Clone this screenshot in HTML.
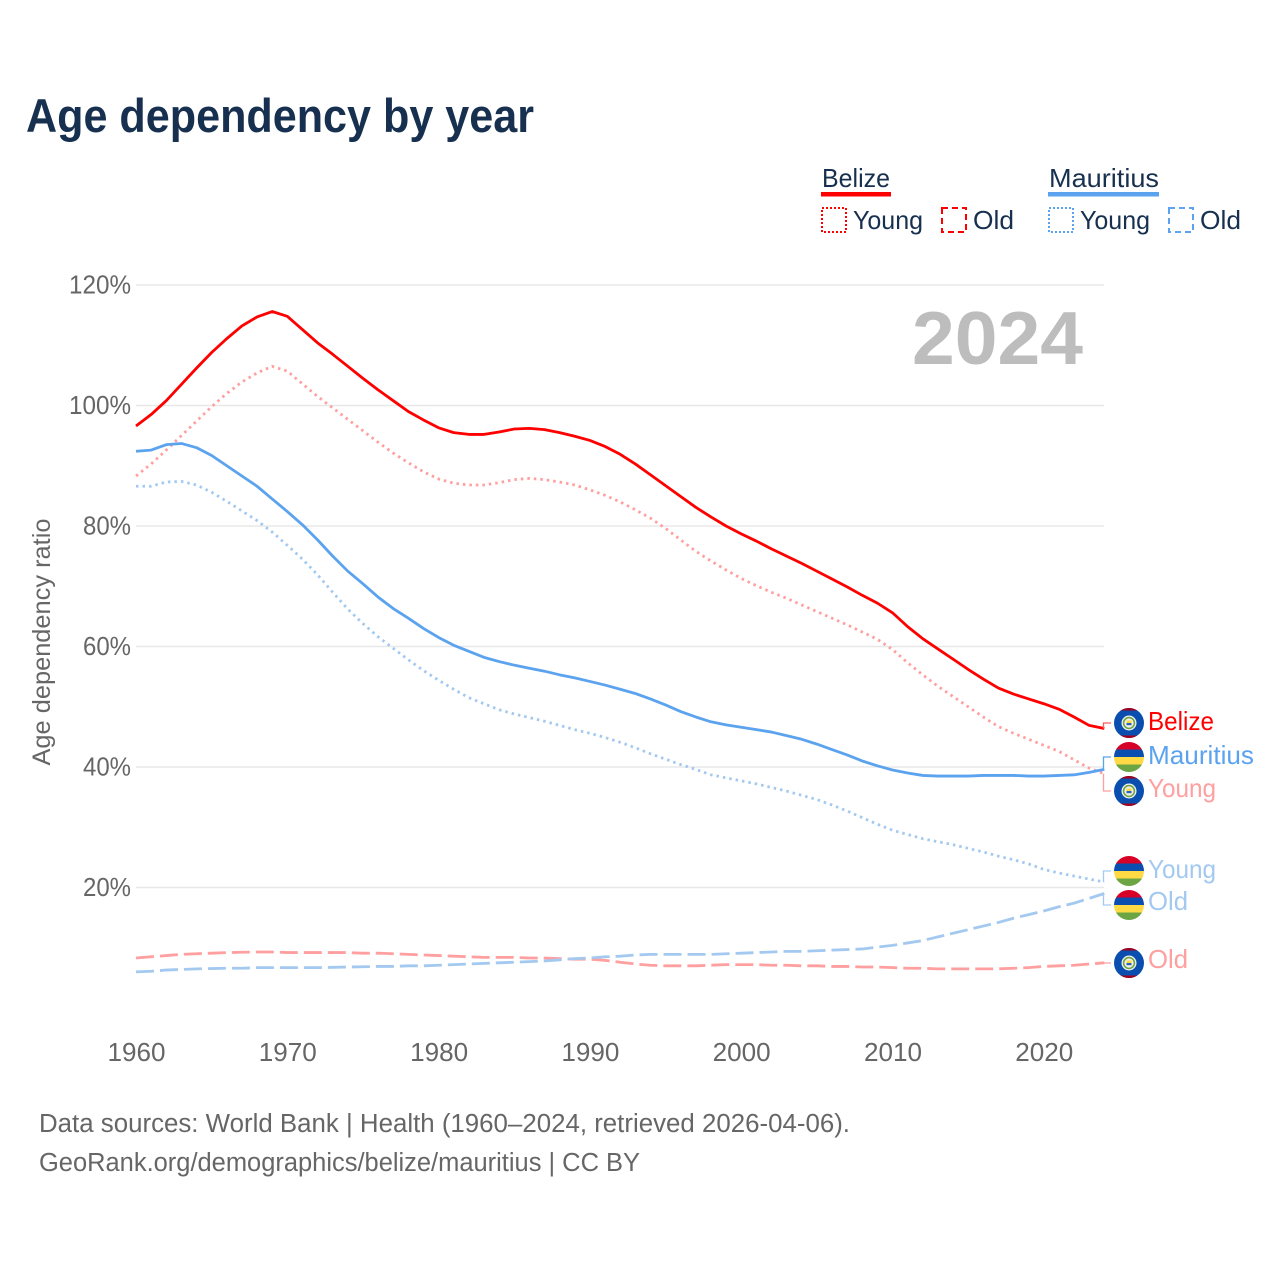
<!DOCTYPE html>
<html lang="en">
<head>
<meta charset="utf-8">
<title>Age dependency by year</title>
<style>
html,body{margin:0;padding:0;background:#fff;}
svg{display:block;font-family:"Liberation Sans",sans-serif;}
</style>
</head>
<body>
<svg id="chart" xmlns="http://www.w3.org/2000/svg" width="1280" height="1280" viewBox="0 0 1280 1280">
<defs>
<clipPath id="flag-clip"><circle cx="0" cy="0" r="15"/></clipPath>
<g id="flag-bz" clip-path="url(#flag-clip)">
<rect x="-15" y="-15" width="30" height="30" fill="#0a4fb0"/>
<rect x="-15" y="-15" width="30" height="2.5" fill="#a2001d"/>
<rect x="-15" y="12.5" width="30" height="2.5" fill="#a2001d"/>
<circle r="7.5" fill="#f0f0f0"/>
<circle r="5.4" fill="none" stroke="#6da544" stroke-width="1.6"/>
<rect x="-2.5" y="-2.5" width="5" height="2.5" fill="#ffda44"/>
<rect x="-2.5" y="0" width="5" height="2.2" fill="#2a62b8"/>
</g>
<g id="flag-mu" clip-path="url(#flag-clip)">
<rect x="-15" y="-15" width="30" height="7.5" fill="#d80027"/>
<rect x="-15" y="-7.5" width="30" height="7.5" fill="#0a4fb0"/>
<rect x="-15" y="0" width="30" height="7.5" fill="#ffda44"/>
<rect x="-15" y="7.5" width="30" height="7.5" fill="#6da544"/>
</g>
</defs>

<text x="26" y="132" font-size="47" font-weight="700" fill="#17304f" textLength="508" lengthAdjust="spacingAndGlyphs">Age dependency by year</text>

<g font-size="26" fill="#17304f">
<text x="822" y="187" textLength="68" lengthAdjust="spacingAndGlyphs">Belize</text>
<rect x="821" y="192" width="70" height="4.5" fill="#ff0000"/>
<rect x="822" y="208" width="24" height="24" fill="none" stroke="#ff0000" stroke-width="2" stroke-dasharray="2 2"/>
<text x="853" y="229" textLength="70" lengthAdjust="spacingAndGlyphs">Young</text>
<rect x="942" y="208" width="24" height="24" fill="none" stroke="#ff0000" stroke-width="2" stroke-dasharray="6 4"/>
<text x="973" y="229" textLength="41" lengthAdjust="spacingAndGlyphs">Old</text>
<text x="1049" y="187" textLength="110" lengthAdjust="spacingAndGlyphs">Mauritius</text>
<rect x="1048" y="192" width="111" height="4.5" fill="#5ba3ee"/>
<rect x="1049" y="208" width="24" height="24" fill="none" stroke="#5ba3ee" stroke-width="2" stroke-dasharray="2 2"/>
<text x="1080" y="229" textLength="70" lengthAdjust="spacingAndGlyphs">Young</text>
<rect x="1169" y="208" width="24" height="24" fill="none" stroke="#5ba3ee" stroke-width="2" stroke-dasharray="6 4"/>
<text x="1200" y="229" textLength="41" lengthAdjust="spacingAndGlyphs">Old</text>
</g>

<g id="grid"></g>
<g id="xaxis"></g>
<text transform="translate(50,642) rotate(-90)" text-anchor="middle" font-size="25" fill="#666666" textLength="247" lengthAdjust="spacingAndGlyphs">Age dependency ratio</text>
<text x="912" y="364" font-size="75" font-weight="700" fill="#bdbdbd" textLength="171" lengthAdjust="spacingAndGlyphs">2024</text>
<g id="series"></g>
<g id="leaders"></g>

<g font-size="26">
<use href="#flag-bz" x="1129" y="723"/>
<text x="1148" y="730" fill="#ff0000" textLength="66" lengthAdjust="spacingAndGlyphs">Belize</text>
<use href="#flag-mu" x="1129" y="757"/>
<text x="1148" y="764" fill="#5ba3ee" textLength="106" lengthAdjust="spacingAndGlyphs">Mauritius</text>
<use href="#flag-bz" x="1129" y="791"/>
<text x="1148" y="797" fill="#ff9f9f" textLength="68" lengthAdjust="spacingAndGlyphs">Young</text>
<use href="#flag-mu" x="1129" y="871"/>
<text x="1148" y="878" fill="#a3c9f0" textLength="68" lengthAdjust="spacingAndGlyphs">Young</text>
<use href="#flag-mu" x="1129" y="905"/>
<text x="1148" y="910" fill="#a3c9f0" textLength="40" lengthAdjust="spacingAndGlyphs">Old</text>
<use href="#flag-bz" x="1129" y="963"/>
<text x="1148" y="968" fill="#ff9f9f" textLength="40" lengthAdjust="spacingAndGlyphs">Old</text>
</g>

<g font-size="25.5" fill="#666666">
<text x="39" y="1132" textLength="811" lengthAdjust="spacingAndGlyphs">Data sources: World Bank | Health (1960–2024, retrieved 2026-04-06).</text>
<text x="39" y="1171" textLength="601" lengthAdjust="spacingAndGlyphs">GeoRank.org/demographics/belize/mauritius | CC BY</text>
</g>
</svg>

<script>
const startYear = 1960;
const xTickLabels = [1960, 1970, 1980, 1990, 2000, 2010, 2020];
const yTickValues = [20, 40, 60, 80, 100, 120];

const belizeTotal = [
96.6,98.5,100.8,103.5,106.2,108.8,111.1,113.2,114.7,115.6,
114.8,112.6,110.4,108.5,106.5,104.5,102.6,100.8,99,97.6,
96.3,95.5,95.2,95.2,95.6,96.1,96.2,96,95.5,94.9,
94.2,93.2,91.9,90.3,88.5,86.7,84.9,83.1,81.5,80,
78.7,77.5,76.2,75,73.8,72.5,71.2,69.9,68.5,67.2,
65.6,63.3,61.3,59.6,57.9,56.2,54.6,53.1,52.1,51.3,
50.5,49.6,48.3,46.9,46.4];
const belizeYoung = [
88.3,90.3,92.6,95,97.4,99.8,102,103.9,105.4,106.5,
105.7,103.6,101.5,99.6,97.7,95.8,93.9,92.1,90.5,89,
87.8,87.1,86.8,86.8,87.2,87.7,87.9,87.7,87.3,86.8,
86,85.1,84,82.7,81.3,79.6,77.7,75.8,74.2,72.7,
71.3,70.1,69,68,66.9,65.8,64.7,63.6,62.4,61.2,
59.5,57.3,55.3,53.4,51.7,50,48.3,46.7,45.6,44.6,
43.6,42.6,41.2,39.8,38.9];
const belizeOld = [
8.3,8.5,8.7,8.9,9,9.1,9.2,9.25,9.3,9.3,
9.2,9.2,9.2,9.2,9.2,9.1,9.1,9,8.9,8.8,
8.7,8.6,8.5,8.4,8.4,8.4,8.3,8.3,8.2,8.1,
8.1,7.9,7.6,7.3,7.1,7,7,7,7.1,7.2,
7.2,7.2,7.1,7.1,7,7,6.9,6.9,6.8,6.8,
6.7,6.6,6.6,6.5,6.5,6.5,6.5,6.5,6.6,6.7,
6.9,7,7.1,7.3,7.5];
const mauritiusTotal = [
92.4,92.6,93.5,93.7,93,91.7,90,88.3,86.6,84.5,
82.4,80.2,77.7,75,72.5,70.4,68.2,66.3,64.7,63,
61.5,60.2,59.2,58.2,57.5,56.9,56.4,55.9,55.3,54.8,
54.2,53.6,52.9,52.2,51.3,50.3,49.2,48.3,47.5,47,
46.6,46.2,45.8,45.2,44.6,43.8,42.9,42,41,40.2,
39.5,39,38.6,38.5,38.5,38.5,38.6,38.6,38.6,38.5,
38.5,38.6,38.7,39.1,39.6];
const mauritiusYoung = [
86.6,86.6,87.3,87.4,86.8,85.6,84.1,82.5,80.9,79,
76.8,74.5,71.9,69,66.2,63.8,61.6,59.7,57.8,56,
54.4,52.9,51.5,50.5,49.5,48.8,48.2,47.6,46.9,46.2,
45.6,44.9,44.1,43.2,42.2,41.3,40.4,39.6,38.7,38.2,
37.7,37.2,36.6,36,35.3,34.6,33.7,32.7,31.6,30.5,
29.5,28.8,28.1,27.6,27.1,26.5,25.9,25.2,24.6,23.9,
23,22.4,21.9,21.4,20.9];
const mauritiusOld = [
6,6.1,6.3,6.4,6.5,6.55,6.6,6.6,6.7,6.7,
6.7,6.7,6.7,6.75,6.8,6.85,6.9,6.9,7,7,
7.1,7.2,7.3,7.4,7.5,7.6,7.7,7.8,8,8.2,
8.3,8.5,8.6,8.8,8.9,8.9,8.9,8.9,8.9,9,
9.1,9.2,9.3,9.4,9.4,9.5,9.6,9.7,9.8,10.1,
10.4,10.8,11.2,11.8,12.4,13,13.6,14.2,14.9,15.5,
16.1,16.8,17.4,18.2,19];

const NS = 'http://www.w3.org/2000/svg';
const xScale = function (year) { return 136 + (year - startYear) * 15.13; };
const yScale = function (value) { return 1008 - value * 6.025; };

function make(tag, parentId, attrs, text) {
  const el = document.createElementNS(NS, tag);
  Object.keys(attrs).forEach(function (k) { el.setAttribute(k, attrs[k]); });
  if (text !== undefined) el.textContent = text;
  document.getElementById(parentId).appendChild(el);
  return el;
}

yTickValues.forEach(function (v) {
  const line = make('line', 'grid', { x1: 136, x2: 1104, y1: yScale(v), y2: yScale(v), stroke: '#e8e8e8', 'stroke-width': 1.5 });
  
  
  const label = make('text', 'grid', { x: 131, y: yScale(v) + 8.5, 'text-anchor': 'end', 'font-size': 26, fill: '#666666', textLength: v >= 100 ? 62 : 48, lengthAdjust: 'spacingAndGlyphs' }, v + '%');
  
  
});

xTickLabels.forEach(function (yr) {
  const label = make('text', 'xaxis', { x: xScale(yr) + 0.5, y: 1061, 'text-anchor': 'middle', 'font-size': 26, fill: '#666666', textLength: 58, lengthAdjust: 'spacingAndGlyphs' }, String(yr));
  
  
});

function drawLine(values, color, dash, name) {
  const d = values.map(function (v, i) {
    return (i ? 'L' : 'M') + xScale(startYear + i).toFixed(2) + ' ' + yScale(v).toFixed(2);
  }).join(' ');
  const attrs = { d: d, fill: 'none', stroke: color, 'stroke-width': 2.8, 'stroke-linejoin': 'round' };
  if (dash) attrs['stroke-dasharray'] = dash;
  const path = make('path', 'series', attrs);
  
  
}

drawLine(belizeOld, '#ff9f9f', '18 6', 'line-belize-old');
drawLine(mauritiusOld, '#a3c9f0', '18 6', 'line-mauritius-old');
drawLine(belizeYoung, '#ff9f9f', '2.5 4', 'line-belize-young');
drawLine(mauritiusYoung, '#a3c9f0', '2.5 4', 'line-mauritius-young');
drawLine(mauritiusTotal, '#5ba3ee', '', 'line-mauritius-total');
drawLine(belizeTotal, '#ff0000', '', 'line-belize-total');

function drawLeader(values, slotY, color, name) {
  const endY = yScale(values[values.length - 1]);
  const path = make('path', 'leaders', { d: 'M1103.5 ' + endY.toFixed(2) + ' V' + slotY + ' H1111', fill: 'none', stroke: color, 'stroke-width': 1.3 });
  
  
}

drawLeader(belizeTotal, 723, '#ff5a5a', 'leader-belize-total');
drawLeader(mauritiusTotal, 757, '#5ba3ee', 'leader-mauritius-total');
drawLeader(belizeYoung, 791, '#ff9f9f', 'leader-belize-young');
drawLeader(mauritiusYoung, 871, '#a3c9f0', 'leader-mauritius-young');
drawLeader(mauritiusOld, 905, '#a3c9f0', 'leader-mauritius-old');
drawLeader(belizeOld, 963, '#ff9f9f', 'leader-belize-old');
</script>
</body>
</html>
